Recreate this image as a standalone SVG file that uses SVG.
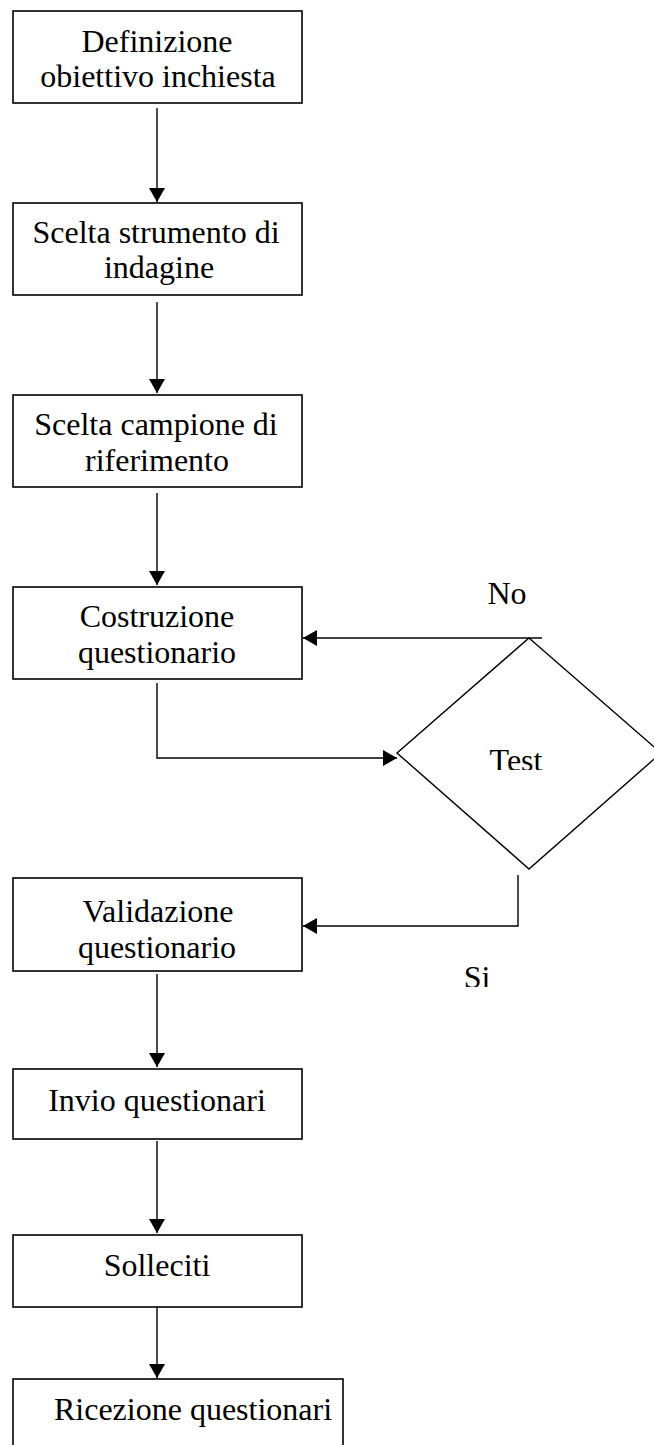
<svg xmlns="http://www.w3.org/2000/svg" width="654" height="1445" viewBox="0 0 654 1445">
  <style>
    .box { fill: #ffffff; stroke: #000000; stroke-width: 1.6; }
    .dia { fill: #ffffff; stroke: #000000; stroke-width: 1.4; }
    .con { fill: none; stroke: #000000; stroke-width: 1.4; }
    .t { font-family: "Liberation Serif", "Times New Roman", serif; font-size: 32px; fill: #000000; text-anchor: middle; }
  </style>
  <defs>
    <marker id="arrow" viewBox="0 0 14 16" refX="14" refY="8" markerWidth="14" markerHeight="16" markerUnits="userSpaceOnUse" orient="auto">
      <path d="M0,0 L14,8 L0,16 Z" fill="#000000"/>
    </marker>
    <clipPath id="clipTest"><rect x="440" y="700" width="160" height="70"/></clipPath>
    <clipPath id="clipSi"><rect x="440" y="940" width="80" height="47"/></clipPath>
  </defs>
  <rect width="654" height="1445" fill="#ffffff"/>

  <g id="connectors">
    <path class="con" d="M157,108 L157,202" marker-end="url(#arrow)"/>
    <path class="con" d="M157,302 L157,393" marker-end="url(#arrow)"/>
    <path class="con" d="M157,493 L157,585" marker-end="url(#arrow)"/>
    <path class="con" d="M542,638 L303,638" marker-end="url(#arrow)"/>
    <path class="con" d="M157,683 L157,758 L397,758" marker-end="url(#arrow)"/>
    <path class="con" d="M518,875 L518,926 L303,926" marker-end="url(#arrow)"/>
    <path class="con" d="M157,974 L157,1067" marker-end="url(#arrow)"/>
    <path class="con" d="M157,1141 L157,1233" marker-end="url(#arrow)"/>
    <path class="con" d="M157,1307 L157,1378" marker-end="url(#arrow)"/>
  </g>

  <g id="n1">
    <rect class="box" x="13" y="11" width="289" height="92"/>
    <text class="t" x="157" y="52">Definizione</text>
    <text class="t" x="158" y="87">obiettivo inchiesta</text>
  </g>
  <g id="n2">
    <rect class="box" x="13" y="203" width="289" height="92"/>
    <text class="t" x="156" y="243">Scelta strumento di</text>
    <text class="t" x="159" y="278">indagine</text>
  </g>
  <g id="n3">
    <rect class="box" x="13" y="395" width="289" height="92"/>
    <text class="t" x="156" y="435">Scelta campione di</text>
    <text class="t" x="157" y="471">riferimento</text>
  </g>
  <g id="n4">
    <rect class="box" x="13" y="587" width="289" height="92"/>
    <text class="t" x="157" y="627">Costruzione</text>
    <text class="t" x="157" y="663">questionario</text>
  </g>
  <g id="test">
    <polygon class="dia" points="529,638 661,753 529,869 397,753"/>
    <text class="t" x="516" y="771" clip-path="url(#clipTest)">Test</text>
  </g>
  <g id="n5">
    <rect class="box" x="13" y="878" width="289" height="93"/>
    <text class="t" x="158" y="922">Validazione</text>
    <text class="t" x="157" y="958">questionario</text>
  </g>
  <g id="n6">
    <rect class="box" x="13" y="1069" width="289" height="70"/>
    <text class="t" x="157" y="1111">Invio questionari</text>
  </g>
  <g id="n7">
    <rect class="box" x="13" y="1235" width="289" height="72"/>
    <text class="t" x="157" y="1276">Solleciti</text>
  </g>
  <g id="n8">
    <rect class="box" x="13" y="1379" width="330" height="90"/>
    <text class="t" x="193" y="1420">Ricezione questionari</text>
  </g>

  <g id="labels">
    <text class="t" x="507" y="604">No</text>
    <text class="t" x="477" y="988" clip-path="url(#clipSi)">Si</text>
  </g>
</svg>
